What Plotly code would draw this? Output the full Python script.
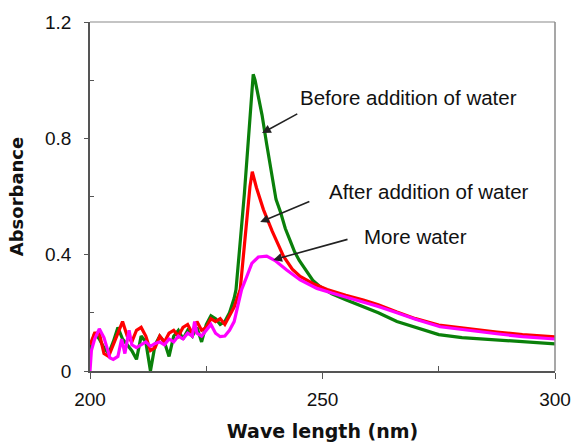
import plotly.graph_objects as go

# ---- data ----
wl_green = [200, 201, 202, 203, 204, 205, 206, 207, 208, 209, 210, 211, 212, 213, 214, 215, 216, 217, 218,
            219, 220, 221, 222, 223, 224, 225, 226, 227, 228, 229, 230, 231, 231.4, 232, 232.5, 233.2, 233.8,
            234.3, 234.8, 235.1, 235.5, 236, 236.6, 237, 238, 239, 240, 241, 242, 243, 244, 245, 246, 247,
            248, 249.5, 252, 255, 259, 262, 266, 270, 275, 280, 287, 293, 300]
abs_green = [0.07, 0.13, 0.11, 0.08, 0.06, 0.10, 0.15, 0.11, 0.09, 0.07, 0.04, 0.12, 0.10, 0.00, 0.09, 0.12,
             0.10, 0.05, 0.12, 0.14, 0.11, 0.14, 0.12, 0.15, 0.10, 0.16, 0.19, 0.18, 0.16, 0.17, 0.20, 0.25,
             0.28, 0.38, 0.48, 0.61, 0.74, 0.84, 0.955, 1.02, 1.00, 0.96, 0.92, 0.88, 0.78, 0.68, 0.59, 0.545,
             0.49, 0.45, 0.41, 0.38, 0.355, 0.33, 0.31, 0.29, 0.265, 0.245, 0.22, 0.20, 0.17, 0.15, 0.125,
             0.115, 0.107, 0.10, 0.093]

wl_red = [200, 201, 202, 203, 204, 205, 206, 207, 208, 209, 210, 211, 212, 213, 214, 215, 216, 217, 218, 219,
          220, 221, 222, 223, 224, 225, 226, 227, 228, 229, 230, 231, 232.3, 233.7, 234.4, 234.9, 235.8, 237.3,
          239.2, 241.6, 243.5, 245.2, 248, 251, 255, 258.8, 262, 266, 270, 275, 280, 287.5, 293, 300]
abs_red = [0.09, 0.13, 0.13, 0.06, 0.05, 0.09, 0.13, 0.17, 0.12, 0.10, 0.14, 0.15, 0.12, 0.07, 0.08, 0.12,
           0.10, 0.13, 0.14, 0.12, 0.15, 0.16, 0.13, 0.17, 0.14, 0.15, 0.18, 0.17, 0.18, 0.16, 0.19, 0.22,
           0.28, 0.50, 0.634, 0.685, 0.63, 0.555, 0.48, 0.395, 0.35, 0.325, 0.30, 0.28, 0.26, 0.244, 0.228,
           0.203, 0.18, 0.158, 0.148, 0.134, 0.125, 0.117]

wl_mag = [200, 200.3, 201, 202, 203, 203.6, 204.3, 205, 206, 206.8, 207.5, 208.4, 209, 210, 211, 212, 213,
          214, 215, 216, 217, 218, 219, 220, 221, 222, 222.5, 223, 224, 225, 226, 227, 228, 229, 230, 231,
          232, 232.6, 233.7, 234.8, 236.2, 238, 239.8, 242.3, 245.2, 248.8, 252, 255, 258.8, 262, 266, 270,
          275.3, 280, 287.5, 293, 300]
abs_mag = [0.0, 0.07, 0.11, 0.145, 0.115, 0.078, 0.045, 0.04, 0.05, 0.11, 0.06, 0.14, 0.09, 0.08, 0.09, 0.10,
           0.085, 0.095, 0.10, 0.09, 0.11, 0.10, 0.12, 0.11, 0.13, 0.12, 0.17, 0.13, 0.12, 0.14, 0.16, 0.13,
           0.118, 0.12, 0.14, 0.17, 0.24, 0.28, 0.324, 0.37, 0.392, 0.395, 0.38, 0.347, 0.313, 0.284, 0.268,
           0.255, 0.237, 0.222, 0.20, 0.178, 0.152, 0.142, 0.128, 0.118, 0.11]

labels = ["Before addition of water", "After addition of water", "More water"]
label_pos = [(268.4, 0.939), (272.9, 0.616), (270.1, 0.464)]
arrow_tail = [(244.9, 0.887), (247.5, 0.585), (255.7, 0.454)]
arrow_head = [(237.0, 0.818), (236.6, 0.512), (239.4, 0.382)]

x_ticks = [200, 250, 300]
y_ticks = [0, 0.4, 0.8, 1.2]
y_ticklabels = ["0", "0.4", "0.8", "1.2"]

# ---- figure ----
fig = go.Figure()
for wl, ab, col in [(wl_green, abs_green, "#0a800a"), (wl_red, abs_red, "#ff0000"), (wl_mag, abs_mag, "#ff00ff")]:
    fig.add_trace(go.Scatter(x=wl, y=ab, mode="lines", line=dict(color=col, width=3.2), showlegend=False))

for txt, (tx, ty), (ax, ay), (hx, hy) in zip(labels, label_pos, arrow_tail, arrow_head):
    fig.add_annotation(x=tx, y=ty, text=txt, showarrow=False,
                       font=dict(family="Liberation Sans, Arial", size=20.5, color="#111"))
    fig.add_annotation(x=hx, y=hy, ax=ax, ay=ay, axref="x", ayref="y", text="", showarrow=True,
                       arrowhead=2, arrowsize=1.1, arrowwidth=1.6, arrowcolor="#222")

tickfont = dict(family="Liberation Sans, Arial", size=19, color="#111")
fig.update_xaxes(range=[200, 300], tickvals=x_ticks, ticks="outside", ticklen=6, tickwidth=1.3,
                 tickcolor="#555", showline=True, linecolor="#555", linewidth=1.5, showgrid=False,
                 zeroline=False, tickfont=tickfont, ticklabelstandoff=4, automargin=False,
                 minor=dict(tickvals=[225, 275], ticks="inside", ticklen=5, tickcolor="#555", tickwidth=1.2),
                 title=dict(text="Wave length (nm)", standoff=18,
                            font=dict(family="DejaVu Sans", size=19, color="#111", weight="bold")))
fig.update_yaxes(range=[0, 1.2], tickvals=y_ticks, ticktext=y_ticklabels, ticks="outside", ticklen=4,
                 tickwidth=1.3, tickcolor="#555", showline=True, linecolor="#555", linewidth=1.5,
                 showgrid=False, zeroline=False, tickfont=tickfont, ticklabelstandoff=9, automargin=False,
                 minor=dict(tickvals=[0.2, 0.6, 1.0], ticks="inside", ticklen=4, tickcolor="#555", tickwidth=1.2),
                 title=dict(text="Absorbance", standoff=17,
                            font=dict(family="DejaVu Sans", size=18, color="#111", weight="bold")))

# top and right frame lines (lighter)
fig.add_shape(type="line", xref="paper", yref="paper", x0=0, x1=1, y0=1, y1=1,
              line=dict(color="#b0b0b0", width=1.5))
fig.add_shape(type="line", xref="paper", yref="paper", x0=1, x1=1, y0=0, y1=1,
              line=dict(color="#8a8a8a", width=1.5))

fig.update_layout(width=573, height=442, margin=dict(l=90, r=18, t=22, b=71),
                  plot_bgcolor="white", paper_bgcolor="white")

# remove the default page margin so the figure sits at the window's top-left corner
fig.write_html("out.html", config={"displayModeBar": False},
               post_script="document.body.style.margin='0';document.body.style.overflow='hidden';")
